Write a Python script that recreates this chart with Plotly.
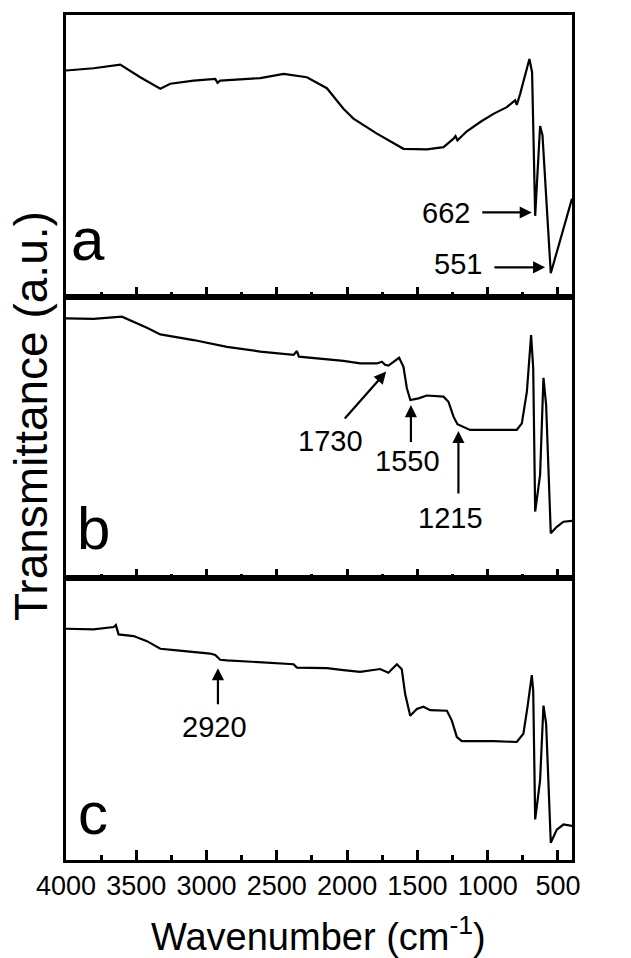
import plotly.graph_objects as go
from plotly.subplots import make_subplots

# ---- data (transmittance in arbitrary units per panel) ----
wn_a = [4000, 3804, 3614, 3531, 3472, 3329, 3258, 3092, 2938, 2922, 2903, 2618, 2452, 2286,
        2144, 2026, 1955, 1788, 1599, 1433, 1314, 1243, 1229, 1215, 1148, 1053, 959, 864,
        805, 793, 769, 703, 684, 662, 646, 627, 610, 551, 400]
t_a = [80.3, 81.1, 82.4, 79.7, 77.9, 73.8, 75.6, 76.7, 77.3, 75.9, 76.7, 77.6, 79.1, 77.9,
       74.0, 66.7, 63.2, 57.9, 52.5, 52.3, 53.1, 56.1, 57.0, 55.5, 58.7, 62.0, 64.9, 67.3,
       69.7, 68.1, 72.0, 84.4, 79.7, 28.7, 41.9, 60.6, 57.3, 8.3, 34.8]

wn_b = [4000, 3804, 3602, 3519, 3424, 3329, 3092, 2855, 2618, 2381, 2357, 2343, 2144, 2026,
        1907, 1788, 1753, 1730, 1706, 1670, 1630, 1599, 1575, 1550, 1492, 1433, 1314, 1279,
        1243, 1215, 1125, 959, 793, 757, 721, 691, 676, 662, 627, 603, 584, 551, 508, 461, 400]
t_b = [92.3, 92.1, 92.9, 91.1, 89.0, 86.6, 84.6, 82.2, 80.5, 79.3, 80.7, 78.7, 77.8, 77.2,
       76.3, 76.3, 76.9, 75.8, 75.5, 76.9, 78.3, 75.1, 67.5, 63.3, 63.9, 64.9, 64.5, 62.7,
       57.4, 54.7, 52.7, 52.7, 52.7, 55.0, 66.3, 86.4, 74.6, 23.7, 36.7, 71.2, 61.5, 16.0,
       18.3, 20.1, 20.4]

wn_c = [4000, 3804, 3661, 3645, 3626, 3519, 3424, 3329, 3210, 3092, 2974, 2938, 2903, 2855,
        2618, 2381, 2357, 2144, 2026, 1907, 1765, 1706, 1646, 1611, 1587, 1551, 1504, 1457,
        1409, 1290, 1255, 1219, 1184, 959, 793, 746, 717, 686, 676, 662, 627, 603, 584, 551,
        508, 461, 400]
t_c = [82.1, 81.9, 82.7, 83.4, 80.1, 79.5, 77.7, 75.0, 74.4, 73.9, 73.3, 72.8, 71.1, 70.9,
       70.3, 69.5, 68.3, 68.1, 67.4, 66.8, 67.8, 66.5, 69.5, 67.7, 58.9, 51.2, 53.6, 54.4,
       53.2, 53.0, 49.5, 43.6, 42.2, 42.2, 41.9, 44.8, 54.2, 65.6, 60.1, 14.4, 28.3, 54.8,
       48.3, 6.1, 10.8, 12.6, 12.1]

panel_labels = ["a", "b", "c"]
tick_vals = [4000, 3500, 3000, 2500, 2000, 1500, 1000, 500]
tick_text = ["4000", "3500", "3000", "2500", "2000", "1500", "1000", "500"]
minor_vals = [3750, 3250, 2750, 2250, 1750, 1250, 750]

# peak labels: (panel row, text, text x, text y, arrow head x, head y, tail x, tail y)
peak_labels = [
    (1, "662", 1299, 29.8, 686, 29.9, 1049, 29.9),
    (1, "551", 1210, 11.7, 591, 10.4, 963, 10.4),
    (2, "1730", 2120, 48.6, 1722, 73.4, 2026, 56.2),
    (2, "1550", 1570, 41.5, 1546, 61.5, 1546, 47.9),
    (2, "1215", 1262, 21.4, 1208, 52.3, 1208, 29.6),
    (3, "2920", 2943, 47.1, 2919, 68.1, 2919, 54.8),
]
label_pos = [(3841, 20.2), (3802, 17.8), (3806, 16.6)]

FONT = "Liberation Sans, Arial, sans-serif"

W, H = 631, 958
ML, MR, MT, MB = 66, 59, 13, 98

fig = make_subplots(rows=3, cols=1, shared_xaxes=True, vertical_spacing=0)
for r, (xs, ys) in enumerate([(wn_a, t_a), (wn_b, t_b), (wn_c, t_c)], start=1):
    fig.add_trace(go.Scatter(x=xs, y=ys, mode="lines",
                             line=dict(color="black", width=2.2),
                             showlegend=False, hoverinfo="skip"), row=r, col=1)

for r in range(1, 4):
    fig.update_xaxes(row=r, col=1, range=[4000, 400], showline=True, mirror=True,
                     linecolor="black", linewidth=2.5, ticks="inside", ticklen=10,
                     tickwidth=2.5, tickcolor="black", tickvals=tick_vals,
                     ticktext=tick_text, showgrid=False, zeroline=False,
                     showticklabels=(r == 3),
                     tickfont=dict(family=FONT, size=27, color="black"),
                     minor=dict(ticks="inside", ticklen=5, tickwidth=2.5,
                                tickcolor="black", tickvals=minor_vals, showgrid=False))
    fig.update_yaxes(row=r, col=1, range=[0, 100], showline=True, mirror=True,
                     linecolor="black", linewidth=2.5, ticks="", showticklabels=False,
                     showgrid=False, zeroline=False)

plot_w = W - ML - MR
plot_h = H - MT - MB

annotations = []
for (r, txt, tx, ty, hx, hy, sx, sy) in peak_labels:
    xr = "x" if r == 1 else f"x{r}"
    yr = "y" if r == 1 else f"y{r}"
    annotations.append(dict(x=hx, y=hy, ax=sx, ay=sy, xref=xr, yref=yr, axref=xr, ayref=yr,
                            text="", showarrow=True, arrowhead=2, arrowsize=1.1,
                            arrowwidth=2.2, arrowcolor="black"))
    annotations.append(dict(x=tx, y=ty, xref=xr, yref=yr, text=txt, showarrow=False,
                            xanchor="center", yanchor="middle",
                            font=dict(family=FONT, size=29, color="black")))
for r, (lbl, (lx, ly)) in enumerate(zip(panel_labels, label_pos), start=1):
    xr = "x" if r == 1 else f"x{r}"
    yr = "y" if r == 1 else f"y{r}"
    annotations.append(dict(x=lx, y=ly, xref=xr, yref=yr, text=lbl, showarrow=False,
                            xanchor="center", yanchor="middle",
                            font=dict(family=FONT, size=60, color="black")))
# y-axis title: centre at page x=31, y=415 (reference pixels)
annotations.append(dict(x=(31 - ML) / plot_w, y=1 - (415 - MT) / plot_h,
                        xref="paper", yref="paper",
                        text="Transmittance (a.u.)", textangle=-90, showarrow=False,
                        xanchor="center", yanchor="middle",
                        font=dict(family=FONT, size=46, color="black")))
# x-axis title: centre at page x=318, y=934
annotations.append(dict(x=(318 - ML) / plot_w, y=-(934 - (H - MB)) / plot_h,
                        xref="paper", yref="paper",
                        text="Wavenumber (cm<sup>-1</sup>)", showarrow=False,
                        xanchor="center", yanchor="middle",
                        font=dict(family=FONT, size=38, color="black")))
fig.update_layout(annotations=annotations)

fig.update_layout(width=W, height=H, margin=dict(l=ML, r=MR, t=MT, b=MB),
                  paper_bgcolor="white", plot_bgcolor="white",
                  font=dict(family=FONT, color="black"))

fig.write_html("out.html", config={"displayModeBar": False},
               post_script="document.body.style.margin='0';")
